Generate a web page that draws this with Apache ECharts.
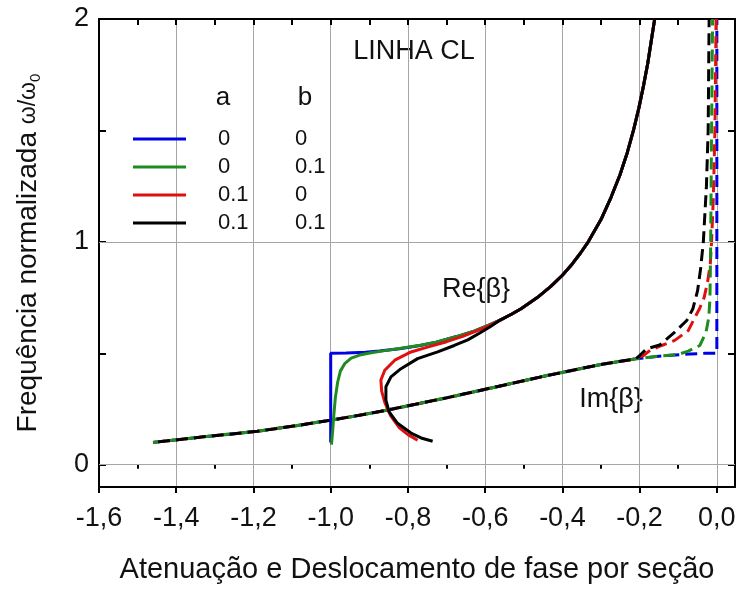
<!DOCTYPE html>
<html>
<head>
<meta charset="utf-8">
<script src="https://cdn.jsdelivr.net/npm/echarts@6/dist/echarts.min.js"></script>
<style>html,body{margin:0;padding:0;background:#fff}#c{width:739px;height:589px}</style>
</head>
<body>
<div id="c"></div>
<script>
// ---- tick labels ----
const xTicks = [-1.6, -1.4, -1.2, -1.0, -0.8, -0.6, -0.4, -0.2, 0.0];
const xMinorTicks = [-1.5, -1.3, -1.1, -0.9, -0.7, -0.5, -0.3, -0.1];
const yLabels = [0, 1, 2];
const yTicks = [0, 0.5, 1, 1.5, 2];
const yGridLines = [0, 1];

// ---- legend table (a, b) ----
const paramA = ['0', '0', '0.1', '0.1'];
const paramB = ['0', '0.1', '0', '0.1'];

// ---- Re{beta} curves (x = normalized phase, y = w/w0) ----
const reUpper = [[-0.560,0.65],[-0.532,0.675],[-0.507,0.70],[-0.465,0.75],[-0.430,0.80],[-0.400,0.85],[-0.375,0.90],[-0.353,0.95],[-0.333,1.00],[-0.300,1.10],[-0.274,1.20],[-0.251,1.30],[-0.232,1.40],[-0.216,1.50],[-0.202,1.60],[-0.190,1.70],[-0.179,1.80],[-0.170,1.90],[-0.161,2.00]];
const reBlueLow = [[-1.0,0.10],[-1.0,0.50],[-0.96,0.501],[-0.91,0.505],[-0.874,0.51],[-0.822,0.52],[-0.768,0.535],[-0.727,0.55],[-0.674,0.575],[-0.627,0.60],[-0.592,0.625]];
const reGreenLow = [[-0.998,0.09],[-0.995,0.15],[-0.992,0.22],[-0.988,0.30],[-0.982,0.37],[-0.975,0.42],[-0.963,0.455],[-0.947,0.478],[-0.925,0.492],[-0.895,0.502],[-0.86,0.512],[-0.822,0.521],[-0.768,0.536],[-0.727,0.55],[-0.674,0.575],[-0.627,0.60],[-0.592,0.625]];
const reRedLow = [[-0.775,0.11],[-0.80,0.135],[-0.822,0.165],[-0.845,0.22],[-0.860,0.28],[-0.868,0.33],[-0.870,0.38],[-0.860,0.424],[-0.834,0.469],[-0.792,0.506],[-0.745,0.53],[-0.700,0.552],[-0.660,0.575],[-0.625,0.598],[-0.590,0.623]];
const reBlackLow = [[-0.736,0.105],[-0.766,0.12],[-0.792,0.142],[-0.827,0.186],[-0.849,0.238],[-0.857,0.29],[-0.857,0.35],[-0.844,0.394],[-0.818,0.431],[-0.775,0.476],[-0.723,0.506],[-0.68,0.535],[-0.645,0.56],[-0.615,0.59],[-0.588,0.618]];

// ---- Im{beta} curves ----
const imBase = [[-1.46,0.10],[-1.33,0.125],[-1.19,0.15],[-1.09,0.175],[-1.0,0.20],[-0.915,0.225],[-0.84,0.25],[-0.77,0.275],[-0.70,0.30],[-0.57,0.35],[-0.44,0.40],[-0.30,0.45],[-0.21,0.475]];
const imBlueEnd = [[-0.13,0.49],[-0.07,0.497],[-0.03,0.5],[0,0.5],[0,2.0]];
const imGreenEnd = [[-0.148,0.488],[-0.10,0.495],[-0.074,0.51],[-0.044,0.535],[-0.028,0.595],[-0.021,0.66],[-0.018,0.74],[-0.017,0.85],[-0.016,1.0],[-0.0137,1.5],[-0.011,2.0]];
const imRedEnd = [[-0.19,0.49],[-0.173,0.513],[-0.143,0.535],[-0.109,0.558],[-0.074,0.602],[-0.061,0.647],[-0.045,0.70],[-0.033,0.75],[-0.024,0.82],[-0.017,0.9],[-0.0137,1.0],[-0.009,1.2],[-0.005,1.5],[-0.002,2.0]];
const imBlackEnd = [[-0.20,0.49],[-0.182,0.52],[-0.148,0.537],[-0.109,0.595],[-0.078,0.647],[-0.062,0.70],[-0.05,0.78],[-0.042,0.88],[-0.035,1.0],[-0.027,1.25],[-0.0225,1.5],[-0.020,2.0]];

const colors = ['#0000e6', '#1e8c1e', '#e01010', '#000000'];
const FONT = 'Liberation Sans';

const names = paramA.map((a, i) => a + '|' + paramB[i]);
const reData = [reBlueLow.concat(reUpper), reGreenLow.concat(reUpper), reRedLow.concat(reUpper), reBlackLow.concat(reUpper)];
const imData = [imBase.concat(imBlueEnd), imBase.concat(imGreenEnd), imBase.concat(imRedEnd), imBase.concat(imBlackEnd)];

const series = [];
series.push({
  name: 'grid', type: 'line', data: [], z: 1, silent: true,
  markLine: { silent: true, symbol: 'none', animation: false, label: { show: false },
    lineStyle: { color: '#a6a6a6', width: 1, type: 'solid' },
    data: yGridLines.map(v => ({ yAxis: v })) }
});
const imOrder = [0, 2, 1, 3];
const dashOffsets = [0, 9, 4, 13];
imOrder.forEach((i, k) => {
  series.push({
    name: 'Im ' + names[i], type: 'line', data: imData[i], showSymbol: false, symbol: 'none',
    z: 3 + k, animation: false,
    lineStyle: { color: colors[i], width: 3, type: [12, 6], dashOffset: dashOffsets[k] },
    itemStyle: { color: colors[i] }
  });
});
[0, 1, 2, 3].forEach((i) => {
  series.push({
    name: names[i], type: 'line', data: reData[i], showSymbol: false, symbol: 'none',
    z: 10 + i, animation: false,
    lineStyle: { color: colors[i], width: 3 },
    itemStyle: { color: colors[i] }
  });
});

const fmtX = v => (Math.abs(v) < 1e-9 ? 0 : v).toFixed(1).replace('.', ',');

const option = {
  backgroundColor: '#fff',
  animation: false,
  grid: { left: 99, right: 4, top: 19, bottom: 99, containLabel: false },
  xAxis: [
    { type: 'value', position: 'bottom', min: -1.6, max: 0.047, interval: 0.2,
      axisLine: { show: true, onZero: false, lineStyle: { color: '#000', width: 2 } },
      axisTick: { show: true, inside: false, length: 6, customValues: xTicks, lineStyle: { color: '#000', width: 2 } },
      axisLabel: { customValues: xTicks, formatter: fmtX, fontSize: 27, color: '#111', fontFamily: FONT, margin: 18 },
      splitLine: { show: true, lineStyle: { color: '#a6a6a6', width: 1 } },
      name: 'Atenuação e Deslocamento de fase por seção', nameLocation: 'middle', nameGap: 68,
      nameTextStyle: { fontSize: 29, color: '#111', fontFamily: FONT } },
    { type: 'value', position: 'bottom', min: -1.6, max: 0.047,
      axisLine: { show: false }, axisLabel: { show: false }, splitLine: { show: false },
      axisTick: { show: true, inside: false, length: 4, customValues: xMinorTicks, lineStyle: { color: '#000', width: 2 } } },
    { type: 'value', position: 'top', min: -1.6, max: 0.047,
      axisLine: { show: true, onZero: false, lineStyle: { color: '#000', width: 2 } },
      axisLabel: { show: false }, splitLine: { show: false },
      axisTick: { show: true, inside: true, length: 6, customValues: xTicks.concat(xMinorTicks), lineStyle: { color: '#000', width: 2 } } }
  ],
  yAxis: [
    { type: 'value', position: 'left', min: -0.1, max: 2,
      axisLine: { show: true, onZero: false, lineStyle: { color: '#000', width: 2 } },
      axisTick: { show: true, inside: true, length: 7, customValues: yTicks, lineStyle: { color: '#000', width: 2 } },
      axisLabel: { customValues: yLabels, fontSize: 27, color: '#111', fontFamily: FONT, margin: 10 },
      splitLine: { show: false },
      name: 'Frequência normalizada {w|ω/ω}{s|0}', nameLocation: 'middle', nameRotate: 90, nameGap: 56,
      nameTextStyle: { fontSize: 28, color: '#111', fontFamily: FONT,
        rich: { w: { fontSize: 23, fontFamily: FONT, color: '#111' }, s: { fontSize: 15, fontFamily: FONT, color: '#111', verticalAlign: 'bottom', padding: [14, 0, 0, 0] } } } },
    { type: 'value', position: 'right', min: -0.1, max: 2,
      axisLine: { show: true, onZero: false, lineStyle: { color: '#000', width: 2 } },
      axisTick: { show: true, inside: true, length: 7, customValues: yTicks, lineStyle: { color: '#000', width: 2 } },
      axisLabel: { show: false }, splitLine: { show: false } }
  ],
  legend: {
    data: names, orient: 'vertical', left: 133, top: 128, padding: 0, itemWidth: 53, itemHeight: 3, itemGap: 6,
    icon: 'rect', selectedMode: false,
    formatter: n => { const p = n.split('|'); return '{s| }{a|' + p[0] + '}{b|' + p[1] + '}'; },
    textStyle: { fontSize: 22, color: '#111', fontFamily: FONT, lineHeight: 22,
      rich: { s: { width: 27, fontSize: 22 }, a: { width: 77, fontSize: 22, fontFamily: FONT, color: '#111' }, b: { fontSize: 22, fontFamily: FONT, color: '#111' } } }
  },
  graphic: [
    { type: 'text', x: 414, y: 52, style: { text: 'LINHA CL', font: '27px "Liberation Sans"', fill: '#111', align: 'center', verticalAlign: 'middle' } },
    { type: 'text', x: 223, y: 98, style: { text: 'a', font: '26px "Liberation Sans"', fill: '#111', align: 'center', verticalAlign: 'middle' } },
    { type: 'text', x: 305, y: 98, style: { text: 'b', font: '26px "Liberation Sans"', fill: '#111', align: 'center', verticalAlign: 'middle' } },
    { type: 'text', x: 476, y: 290, style: { text: 'Re{β}', font: '27px "Liberation Sans"', fill: '#111', align: 'center', verticalAlign: 'middle' } },
    { type: 'text', x: 611, y: 400, style: { text: 'Im{β}', font: '27px "Liberation Sans"', fill: '#111', align: 'center', verticalAlign: 'middle' } }
  ],
  series: series
};

const chart = echarts.init(document.getElementById('c'), null, { renderer: 'canvas' });
chart.setOption(option);
</script>
</body>
</html>
